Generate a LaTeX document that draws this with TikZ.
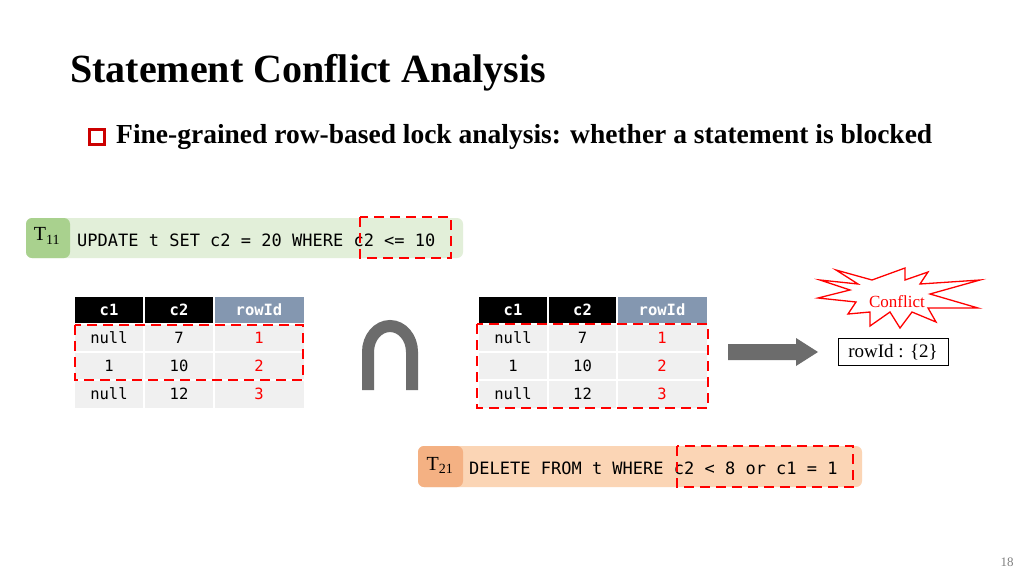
\documentclass[tikz,border=0pt]{standalone}
\usepackage{fontspec}
\setmainfont{Liberation Serif}
\setmonofont{DejaVu Sans Mono}
\begin{document}
\begin{tikzpicture}[x=1pt,y=-1pt,
  mono/.style={font=\ttfamily\fontsize{17}{20}\selectfont,anchor=west,inner sep=0pt},
  redbox/.style={draw=red,dashed,dash pattern=on 10pt off 6pt,line width=2pt},
  hd/.style={fill=black,text=white,font=\ttfamily\bfseries\fontsize{15.5}{18}\selectfont,minimum width=69pt,minimum height=26pt,inner sep=0pt},
  hdb/.style={hd,fill=rowblue,minimum width=89pt},
  cell/.style={fill=cellgray,font=\ttfamily\fontsize{15.5}{18}\selectfont,minimum width=69pt,minimum height=27pt,inner sep=0pt},
  cellr/.style={cell,text=red,minimum width=89pt}]
\definecolor{rowblue}{HTML}{8497B0}
\definecolor{cellgray}{HTML}{F0F0F0}
\definecolor{lgreen}{HTML}{E2EFD9}
\definecolor{dgreen}{HTML}{A9D18E}
\definecolor{lorange}{HTML}{FBD5B5}
\definecolor{dorange}{HTML}{F4B183}
\useasboundingbox (0,0) rectangle (1024,576);
\fill[white] (0,0) rectangle (1024,576);
\node[anchor=west,inner sep=0pt,font=\bfseries\fontsize{40}{46}\selectfont] (title) at (70,73) {Statement Conflict Analysis};
\node[draw=red!80!black,line width=2.2pt,minimum size=15pt,inner sep=0pt] (bul) at (97,137) {};
\node[anchor=west,inner sep=0pt,font=\bfseries\fontsize{27.5}{32}\selectfont] (sub) at (116,137) {Fine-grained row-based lock analysis: whether a statement is blocked};
% T11
\fill[lgreen,rounded corners=6pt] (26,218) rectangle (463,258);
\fill[dgreen,rounded corners=6pt] (26,218) rectangle (70,258);
\node[font=\fontsize{20}{24}\selectfont] (t11) at (47,236) {T\textsubscript{11}};
\node[mono] (q1) at (77,240) {UPDATE t SET c2 = 20 WHERE c2 <= 10};
\draw[redbox] (360,217) rectangle (451,258);
% table 1
\foreach \x/\t in {109/c1,179/c2}{\node[hd] at (\x,309.5) {\t};}
\node[hdb] at (259,309.5) {rowId};
\foreach \y/\a/\b/\c in {338/null/7/1,366/1/10/2,394/null/12/3}{
  \node[cell] at (109,\y) {\a}; \node[cell] at (179,\y) {\b}; \node[cellr] at (259,\y) {\c};}
\draw[white,line width=1.5pt] (144,296)--(144,408) (214,296)--(214,408) (74,352)--(304,352) (74,380)--(304,380);
\draw[redbox] (75,325) rectangle (303,380);
% cap
\draw[gray!85!black,line width=12pt] (368,390) -- (368,352) arc[start angle=180,end angle=360,x radius=22,y radius=26] -- (412,390);
% table 2
\foreach \x/\t in {513/c1,582.5/c2}{\node[hd] at (\x,309.5) {\t};}
\node[hdb] at (662,309.5) {rowId};
\foreach \y/\a/\b/\c in {338/null/7/1,366/1/10/2,394/null/12/3}{
  \node[cell] at (513,\y) {\a}; \node[cell] at (582.5,\y) {\b}; \node[cellr] at (662,\y) {\c};}
\draw[white,line width=1.5pt] (548,296)--(548,408) (617,296)--(617,408) (478,352)--(707,352) (478,380)--(707,380);
\draw[redbox] (477,324) rectangle (708,408);
% arrow
\fill[gray!85!black] (728,344) -- (796,344) -- (796,338) -- (818,352) -- (796,366) -- (796,360) -- (728,360) -- cycle;
\draw[red,line width=1.3pt,line join=miter] (820,280) -- (858,284) -- (836,270) -- (872,280) -- (905,268) -- (905,280) -- (928,272) -- (920,284) -- (980,280) -- (930,294) -- (978,308) -- (928,308) -- (936,322) -- (912,312) -- (900,328) -- (890,312) -- (870,326) -- (870,312) -- (848,314) -- (856,302) -- (818,298) -- (850,290) -- cycle;
\node[text=red,font=\fontsize{17}{20}\selectfont] (conf) at (897,302) {Conflict};
\node[draw,line width=1pt,font=\fontsize{19}{22}\selectfont,minimum width=110pt,minimum height=27pt,inner sep=2pt] (res) at (893,352) {rowId : \{2\}};
% T21
\fill[lorange,rounded corners=6pt] (418,446) rectangle (862,487);
\fill[dorange,rounded corners=6pt] (418,446) rectangle (463,487);
\node[font=\fontsize{20}{24}\selectfont] (t21) at (440,465) {T\textsubscript{21}};
\node[mono] (q2) at (469,468) {DELETE FROM t WHERE c2 < 8 or c1 = 1};
\draw[redbox] (677,446) rectangle (853,487);
\node[text=gray,font=\fontsize{13}{15}\selectfont] (pg) at (1007,562) {18};
\end{tikzpicture}
\end{document}
